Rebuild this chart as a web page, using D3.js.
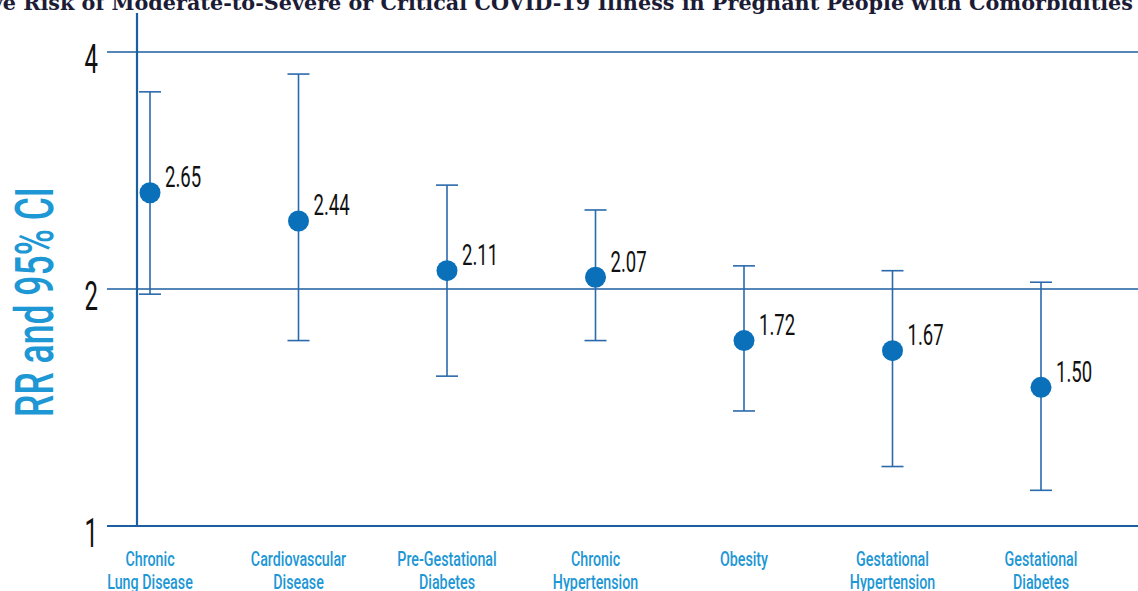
<!DOCTYPE html>
<html>
<head>
<meta charset="utf-8">
<script src="https://cdn.jsdelivr.net/npm/d3@7"></script>
<style>
  html, body { margin: 0; padding: 0; background: #fff; overflow: hidden; }
  svg { display: block; }
</style>
</head>
<body>
<svg id="chart" width="1138" height="591"></svg>
<script>
// Relative risk (RR) with 95% confidence interval by comorbidity
const categories = [
  "Chronic\nLung Disease",
  "Cardiovascular\nDisease",
  "Pre-Gestational\nDiabetes",
  "Chronic\nHypertension",
  "Obesity",
  "Gestational\nHypertension",
  "Gestational\nDiabetes"
];
const rr      = [2.65, 2.44, 2.11, 2.07, 1.72, 1.67, 1.50];
const ciLow   = [1.97, 1.72, 1.55, 1.72, 1.40, 1.19, 1.11];
const ciHigh  = [3.56, 3.75, 2.71, 2.52, 2.14, 2.11, 2.04];
const yTicks  = [1, 2, 4];
const titleText = "Relative Risk of Moderate-to-Severe or Critical COVID-19 Illness in Pregnant People with Comorbidities";
const yTitle = "RR and 95% CI";

const W = 1138, H = 591;
const axisX = 137, axisBottom = 526, axisTopLine = 13;
const gridLeft = 107, gridRight = W;

const AXIS_COLOR = "#1b5fa0";
const BAR_COLOR  = "#2a69ac";
const DOT_COLOR  = "#0a70ba";
const LABEL_BLUE = "#1e97d5";
const COND_FONT  = "Roboto, 'Noto Sans', sans-serif";

const svg = d3.select("#chart");

const x = d3.scalePoint().domain(categories).range([150, 1041]);
const y = d3.scaleLog().domain([1, 4]).range([axisBottom, 52]);

// Title (runs off the top-left edge)
const title = svg.append("text")
  .attr("x", 1133).attr("y", 10)
  .attr("text-anchor", "end")
  .attr("fill", "#1c1c36")
  .style("font-family", "'DejaVu Serif', 'Liberation Serif', serif")
  .style("font-weight", "bold")
  .style("font-size", "22px")
  .text(titleText);
{
  const node = title.node();
  const visibleFrom = titleText.indexOf("e Risk");
  const visLen = node.getSubStringLength(visibleFrom, titleText.length - visibleFrom);
  title.style("font-size", (22 * 1131 / visLen) + "px");
}

// Horizontal gridlines at each tick
svg.append("g").selectAll("line")
  .data(yTicks)
  .join("line")
  .attr("x1", gridLeft).attr("x2", gridRight)
  .attr("y1", d => y(d)).attr("y2", d => y(d))
  .attr("stroke", AXIS_COLOR)
  .attr("stroke-width", d => d === 1 ? 2.2 : 1.5);

// Vertical axis line
svg.append("line")
  .attr("x1", axisX).attr("x2", axisX)
  .attr("y1", axisTopLine).attr("y2", axisBottom)
  .attr("stroke", AXIS_COLOR).attr("stroke-width", 2.2);

// Left axis tick labels
const yAxis = svg.append("g")
  .attr("transform", `translate(${axisX},0)`)
  .call(d3.axisLeft(y).tickValues(yTicks).tickFormat(d3.format("d")).tickSize(0));
yAxis.select(".domain").remove();
const tickScale = 0.6;
yAxis.selectAll(".tick text")
  .attr("x", -39 / tickScale)
  .attr("dy", "0.52em")
  .attr("transform", `scale(${tickScale},1)`)
  .attr("fill", "#111")
  .style("font-family", COND_FONT)
  .style("font-size", "40px");

// Y axis title
svg.append("text")
  .attr("transform", `translate(53,302) rotate(-90) scale(0.67,1)`)
  .attr("text-anchor", "middle")
  .attr("fill", LABEL_BLUE)
  .style("font-family", COND_FONT)
  .style("font-weight", "500")
  .style("font-size", "53px")
  .text(yTitle);

// Category labels, one text per line
const catScale = 0.68;
const catLines = categories.flatMap(c => c.split("\n").map((line, i) => ({ c, line, i })));
svg.append("g").selectAll("text")
  .data(catLines)
  .join("text")
  .attr("transform", d => `translate(${x(d.c)},${566 + d.i * 23}) scale(${catScale},1)`)
  .attr("text-anchor", "middle")
  .attr("fill", LABEL_BLUE)
  .style("font-family", COND_FONT)
  .style("font-weight", "500")
  .style("font-size", "21px")
  .text(d => d.line);

// Error bars, points and value labels
const rows = categories.map((c, i) => ({ c, rr: rr[i], lo: ciLow[i], hi: ciHigh[i] }));
const capHalf = 11;
const marks = svg.append("g").selectAll("g")
  .data(rows)
  .join("g");

marks.append("line")
  .attr("x1", d => x(d.c)).attr("x2", d => x(d.c))
  .attr("y1", d => y(d.lo)).attr("y2", d => y(d.hi))
  .attr("stroke", BAR_COLOR).attr("stroke-width", 1.6);
marks.append("line")
  .attr("x1", d => x(d.c) - capHalf).attr("x2", d => x(d.c) + capHalf)
  .attr("y1", d => y(d.hi)).attr("y2", d => y(d.hi))
  .attr("stroke", BAR_COLOR).attr("stroke-width", 1.6);
marks.append("line")
  .attr("x1", d => x(d.c) - capHalf).attr("x2", d => x(d.c) + capHalf)
  .attr("y1", d => y(d.lo)).attr("y2", d => y(d.lo))
  .attr("stroke", BAR_COLOR).attr("stroke-width", 1.6);
marks.append("circle")
  .attr("cx", d => x(d.c)).attr("cy", d => y(d.rr))
  .attr("r", 10.5)
  .attr("fill", DOT_COLOR);

const valScale = 0.64;
marks.append("text")
  .attr("transform", d => `translate(${x(d.c) + 15},${y(d.rr) - 16}) scale(${valScale},1)`)
  .attr("dy", "0.36em")
  .attr("fill", "#111")
  .style("font-family", COND_FONT)
  .style("font-size", "29px")
  .text(d => d.rr.toFixed(2));
</script>
</body>
</html>
